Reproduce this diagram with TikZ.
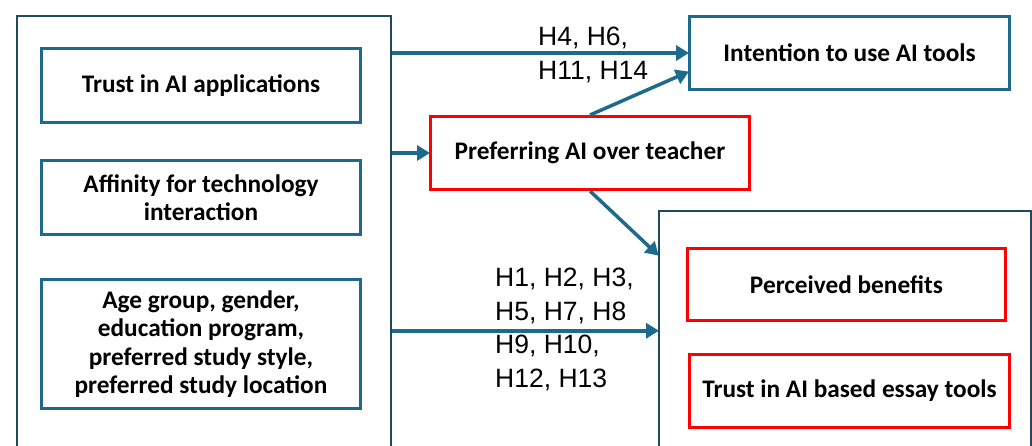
\documentclass[tikz,border=0pt]{standalone}
\usepackage{fontspec}
\setmainfont{Liberation Sans}
\newfontfamily\boxfont{Carlito}
\usetikzlibrary{arrows.meta,calc}
\definecolor{teal}{HTML}{1E6A8C}
\definecolor{frame}{HTML}{1F4A5E}
\definecolor{redb}{HTML}{FF0000}
\tikzset{
  inbox/.style={draw=teal, line width=3pt, rectangle, anchor=north west, inner sep=0pt,
    align=center, font=\boxfont\bfseries\fontsize{25.3}{28.5}\selectfont},
  redbox/.style={inbox, draw=redb},
  outerbox/.style={draw=frame, line width=1.5pt, rectangle, anchor=north west, inner sep=0pt},
  conn/.style={draw=teal, line width=3.5pt, -{Triangle[length=13pt,width=15pt]}, shorten >=-1pt},
  hlabel/.style={anchor=north west, inner sep=0pt, align=left, font=\fontsize{26.5}{33.5}\selectfont}
}
\begin{document}
\begin{tikzpicture}[x=1pt,y=-1pt]
\path[use as bounding box] (0,0) rectangle (1032,445);
\clip (0,0) rectangle (1032,445);
% outer frames
\node[outerbox, minimum width=374, minimum height=445] (L) at (16,15) {};
\node[outerbox, minimum width=372, minimum height=240] (R) at (658,210) {};
% left inner boxes
\node[inbox, minimum width=319, minimum height=74] (trust) at (40,47) {Trust in AI applications};
\node[inbox, minimum width=319, minimum height=74] (aff) at (40,159) {Affinity for technology\\interaction};
\node[inbox, minimum width=319, minimum height=129] (age) at (40,278) {Age group, gender,\\education program,\\preferred study style,\\preferred study location};
% middle / right boxes
\node[inbox, minimum width=320, minimum height=73] (intent) at (688,15) {Intention to use AI tools};
\node[redbox, minimum width=319, minimum height=73] (pref) at (429,115) {Preferring AI over teacher};
\node[redbox, minimum width=318, minimum height=72] (pb) at (686,247) {Perceived benefits};
\node[redbox, minimum width=320, minimum height=73] (te) at (688,353) {Trust in AI based essay tools};
% connectors
\draw[conn] (L.east |- intent.west) -- (intent.west);
\draw[conn] (L.east |- pref.west) -- (pref.west);
\draw[conn] (L.east |- R.west) -- (R.west);
\draw[conn] (pref.north) -- ($(intent.west)!0.5!(intent.south west)$);
\draw[conn] (pref.south) -- ([yshift=-45pt]R.north west);
% labels
\node[hlabel] (h1) at (538,27) {H4, H6,\\H11, H14};
\node[hlabel] (h2) at (495,268) {H1, H2, H3,\\H5, H7, H8\\H9, H10,\\H12, H13};
\end{tikzpicture}
\end{document}
